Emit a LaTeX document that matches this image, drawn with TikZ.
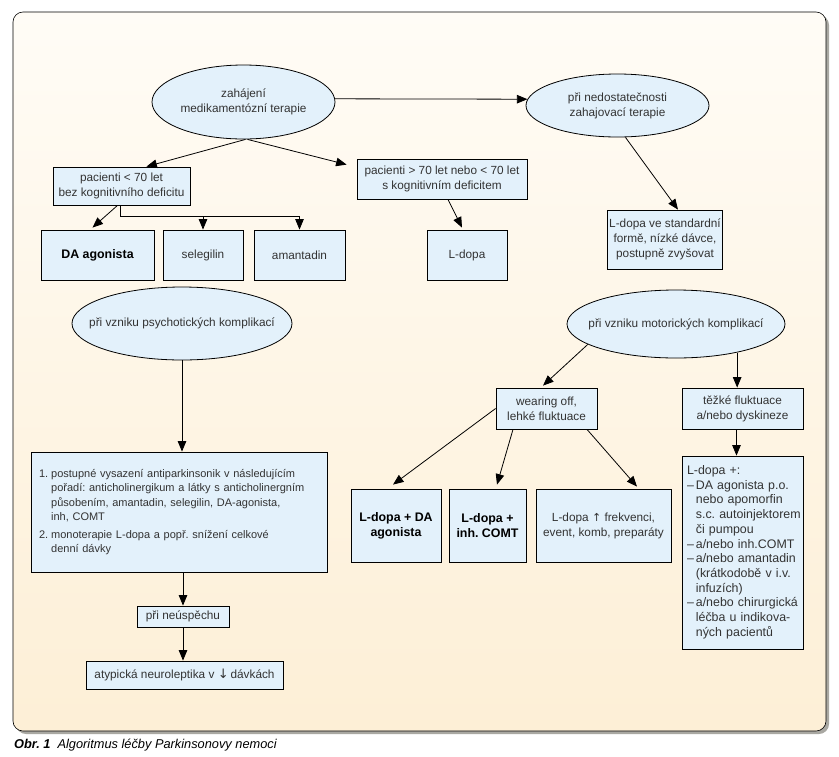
\documentclass[tikz,border=0pt]{standalone}
\usepackage{fontspec}
\setmainfont{Liberation Sans}
\newfontfamily\arrowfont{DejaVu Sans}
\usetikzlibrary{arrows.meta,shapes.geometric}
\definecolor{boxfill}{HTML}{E3F1FB}
\definecolor{bgtop}{HTML}{FFFCF6}
\definecolor{bgbot}{HTML}{FDEFD6}
\definecolor{txt}{HTML}{333333}
\definecolor{shadowc}{HTML}{A9A8A2}
\frenchspacing
\begin{document}
\begin{tikzpicture}[x=1pt,y=-1pt,
  base/.style={draw=black, line width=0.8pt, fill=boxfill, font=\fontsize{11.8}{15}\selectfont, text=txt, align=center, inner sep=2pt},
  box/.style={base, rectangle},
  oval/.style={base, ellipse, inner xsep=-30pt, inner ysep=0pt},
  boldbox/.style={box, font=\fontsize{12.4}{15}\selectfont\bfseries, text=black},
  conn/.style={draw=black, line width=0.8pt},
  arr/.style={conn, -{Triangle[length=10.5pt,width=8.5pt]}},
]
\useasboundingbox (0,0) rectangle (839,756);
% frame
\fill[shadowc, rounded corners=10pt] (16,15) rectangle (829,734);
\shade[top color=bgtop, bottom color=bgbot, rounded corners=10pt] (13,12) rectangle (826,731);
\draw[black, line width=0.6pt, rounded corners=10pt] (13,12) rectangle (826,731);

% top row
\node[oval, minimum width=183pt, minimum height=74pt] (e1) at (243.5,102) {zahájení\\medikamentózní terapie};
\node[oval, minimum width=183pt, minimum height=63pt] (e2) at (617.5,105.5) {při nedostatečnosti\\zahajovací terapie};

\node[box, minimum width=137pt, minimum height=38pt] (b1) at (121.5,186) {pacienti < 70 let\\bez kognitivního deficitu};
\node[box, minimum width=170pt, minimum height=40pt] (b2) at (442,179) {pacienti > 70 let nebo < 70 let\\s kognitivním deficitem};

\node[boldbox, minimum width=113pt, minimum height=50pt] (da) at (97.5,255) {DA agonista};
\node[box, minimum width=80pt, minimum height=50pt] (sel) at (203,255) {selegilin};
\node[box, minimum width=91pt, minimum height=50pt] (ama) at (299.5,255) {amantadin};
\node[box, minimum width=80pt, minimum height=50pt] (ld) at (467,255) {L-dopa};
\node[box, minimum width=114pt, minimum height=59pt] (b3) at (665,239.5) {L-dopa ve standardní\\formě, nízké dávce,\\postupně zvyšovat};

% psychotic branch
\node[oval, minimum width=220pt, minimum height=73pt] (e3) at (182,323.5) {při vzniku psychotických komplikací};
\node[box, minimum width=296pt, minimum height=120pt, text width=280pt, inner xsep=8pt, align=left, font=\fontsize{11}{14.5}\selectfont] (big) at (179,512) {%
\begin{tabular}{@{}l@{\hspace{3pt}}l@{}}
1. & postupné vysazení antiparkinsonik v následujícím\\
 & pořadí: anticholinergikum a látky s anticholinergním\\
 & působením, amantadin, selegilin, DA-agonista,\\
 & inh, COMT\\[3pt]
2. & monoterapie L-dopa a popř. snížení celkové\\
 & denní dávky
\end{tabular}};
\node[box, minimum width=92pt, minimum height=21pt] (neus) at (183,616.5) {při neúspěchu};
\node[box, minimum width=197pt, minimum height=28pt] (atyp) at (184.5,675) {atypická neuroleptika v {\arrowfont\fontsize{13}{13}\selectfont ↓}\,dávkách};

% motor branch
\node[oval, minimum width=218pt, minimum height=68pt] (e4) at (676,324) {při vzniku motorických komplikací};
\node[box, minimum width=101pt, minimum height=41pt] (wear) at (546.5,408.5) {wearing off,\\lehké fluktuace};
\node[box, minimum width=121pt, minimum height=41pt] (tez) at (742.5,408.5) {těžké fluktuace\\a/nebo dyskineze};
\node[box, minimum width=121pt, minimum height=193pt, text width=111pt, inner xsep=5pt, align=left, font=\fontsize{12.4}{14.7}\selectfont] (rbig) at (742.5,552.5) {%
\begin{tabular}{@{}l@{\hspace{2pt}}l@{}}
\multicolumn{2}{@{}l@{}}{L-dopa +:}\\
– & DA agonista p.o.\\
 & nebo apomorfin\\
 & s.c. autoinjektorem\\
 & či pumpou\\
– & a/nebo inh.COMT\\
– & a/nebo amantadin\\
 & (krátkodobě v i.v.\\
 & infuzích)\\
– & a/nebo chirurgická\\
 & léčba u indikova-\\
 & ných pacientů
\end{tabular}};
\node[boldbox, minimum width=90pt, minimum height=73pt] (lda) at (396,525.5) {L-dopa + DA\\agonista};
\node[boldbox, minimum width=77pt, minimum height=73pt] (lcomt) at (487.5,525.5) {L-dopa +\\inh. COMT};
\node[box, minimum width=135pt, minimum height=73pt] (lfrek) at (603.5,525.5) {L-dopa {\arrowfont\fontsize{11}{11}\selectfont ↑} frekvenci,\\event, komb, preparáty};

% caption
\node[anchor=west, inner sep=0pt, font=\fontsize{12.8}{14}\selectfont\itshape] (cap) at (14,745) {\textbf{Obr. 1}\ \ Algoritmus léčby Parkinsonovy nemoci};

% connectors
\draw[arr] (e1.2) -- (e2.176);
\draw[arr] ([xshift=2pt]e1.south) -- ([xshift=-44pt]b1.north east);
\draw[arr] ([xshift=4pt]e1.south) -- ([xshift=-10pt,yshift=-6pt]b2.north west);
\draw[arr] ([xshift=-4pt]b1.south) -- ([xshift=-5pt,yshift=2pt]da.north);
\coordinate (j1) at ([xshift=-1pt,yshift=-11pt]b1.south);
\draw[arr] ([xshift=-1pt]b1.south) -- (j1) -| (ama.north);
\draw[arr] (j1 -| sel.north) -- (sel.north);
\draw[arr] ([xshift=6pt]b2.south) -- ([xshift=-5pt,yshift=2pt]ld.north);
\draw[arr] ([xshift=8pt]e2.south) -- ([xshift=13pt]b3.north);

\draw[arr] (e3.south) -- (e3.south |- big.north);
\draw[arr] (neus.north |- big.south) -- (neus.north);
\draw[arr] (neus.south) -- (neus.south |- atyp.north);

\draw[arr] (e4.193) -- ([xshift=-3.5pt,yshift=2pt]wear.north);
\draw[arr] (e4.335) -- (e4.335 |- tez.north);
\draw[arr] ([xshift=-6pt]tez.south) -- ([xshift=-6pt]rbig.north);
\draw[arr] (wear.west) -- ([xshift=-3pt,yshift=4pt]lda.north);
\draw[arr] ([xshift=-33.5pt]wear.south) -- ([xshift=9.5pt,yshift=4pt]lcomt.north);
\draw[arr] ([xshift=40.5pt]wear.south) -- ([xshift=33.5pt,yshift=2pt]lfrek.north);
\end{tikzpicture}
\end{document}
